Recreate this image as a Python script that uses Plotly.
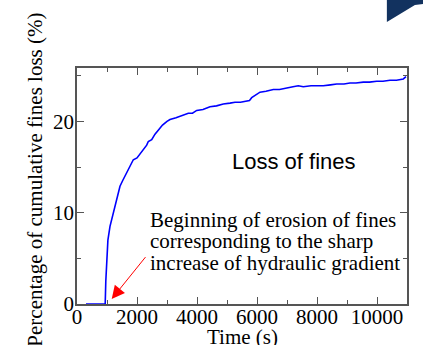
import plotly.graph_objects as go

# Data
time_s = [300, 600, 940, 960, 990, 1030, 1100, 1180, 1267, 1350, 1433, 1520, 1600,
          1750, 1877, 2000, 2100, 2210, 2323, 2377, 2490, 2600, 2710, 2850, 3000,
          3100, 3300, 3543, 3710, 3850, 3990, 4200, 4433, 4650, 4877, 5100, 5267,
          5450, 5657, 5750, 5823, 5950, 6100, 6300, 6543, 6750, 6990, 7200, 7377, 7543,
          7800, 8000, 8210, 8450, 8657, 8900, 9100, 9300, 9543, 9750, 9990, 10200,
          10433, 10650, 10877, 10967]
fines_loss = [0, 0, 0, 2.5, 5.0, 7.0, 8.5, 9.6, 10.7, 11.9, 12.9, 13.5, 14.0,
              15.0, 15.8, 16.0, 16.4, 16.9, 17.4, 17.8, 18.0, 18.6, 19.1, 19.6, 20.0,
              20.2, 20.4, 20.7, 20.9, 20.9, 21.2, 21.3, 21.6, 21.7, 21.9, 22.0, 22.1,
              22.1, 22.2, 22.3, 22.6, 22.9, 23.2, 23.3, 23.5, 23.5, 23.7, 23.8, 23.9, 23.8,
              23.9, 23.9, 23.9, 24.0, 24.1, 24.1, 24.2, 24.2, 24.3, 24.3, 24.4, 24.4,
              24.5, 24.5, 24.65, 24.9]

x_ticks = [0, 2000, 4000, 6000, 8000, 10000]
x_tick_text = ["0", "2000", "4000", "6000", "8000", "10000"]
y_ticks = [0, 10, 20]
y_tick_text = ["0", "10", "20"]

x_title = "Time (s)"
y_title = "Percentage of cumulative fines loss (%)"
label_main = "Loss of fines"
note_lines = ["Beginning of erosion of fines",
              "corresponding to the sharp",
              "increase of hydraulic gradient"]

SERIF = "Liberation Serif"
SANS = "Liberation Sans"
AX = "#555555"

fig = go.Figure()
fig.add_trace(go.Scatter(x=time_s, y=fines_loss, mode="lines",
                         line=dict(color="#0000ff", width=1.6),
                         cliponaxis=False, showlegend=False))

axis_common = dict(showgrid=False, zeroline=False, showline=True, linecolor=AX,
                   linewidth=1.5, mirror="ticks", ticks="inside", ticklen=7,
                   tickcolor=AX, tickwidth=1.2,
                   tickfont=dict(family=SERIF, size=21, color="black"),
                   layer="below traces")

fig.update_xaxes(range=[0, 11000], tickvals=x_ticks, ticktext=x_tick_text,
                 ticklabelstandoff=-7,
                 minor=dict(dtick=1000, ticks="inside", ticklen=4, tickcolor=AX,
                            tickwidth=1.2, showgrid=False),
                 **axis_common)
fig.update_yaxes(range=[0, 25.85], tickvals=y_ticks, ticktext=y_tick_text,
                 ticklabelstandoff=-3,
                 minor=dict(dtick=5, ticks="inside", ticklen=4, tickcolor=AX,
                            tickwidth=1.2, showgrid=False),
                 **axis_common)

annotations = [
    dict(text=x_title, xref="paper", yref="paper", x=0.5, y=0, yshift=-33,
         xanchor="center", yanchor="middle", showarrow=False,
         font=dict(family=SERIF, size=21, color="black")),
    dict(text=y_title, xref="paper", yref="paper", x=0, y=0.527, xshift=-42,
         xanchor="center", yanchor="middle", textangle=-90, showarrow=False,
         font=dict(family=SERIF, size=21, color="black")),
    dict(text=label_main, xref="x", yref="y", x=7233, y=15.6,
         xanchor="center", yanchor="middle", showarrow=False,
         font=dict(family=SANS, size=22, color="black")),
    dict(text="", xref="x", yref="y", x=1157, y=0.55, axref="x", ayref="y",
         ax=2323, ay=5.3, showarrow=True, arrowhead=2, arrowsize=2.6,
         arrowwidth=1, arrowcolor="#ff0000"),
]
line_y = [9.2, 6.85, 4.45]
for txt, yy in zip(note_lines, line_y):
    annotations.append(dict(text=txt, xref="x", yref="y", x=2367, y=yy,
                            xanchor="left", yanchor="middle", showarrow=False,
                            align="left",
                            font=dict(family=SERIF, size=21, color="black")))

fig.update_layout(
    width=423, height=345,
    margin=dict(l=77, r=16, t=68, b=41, pad=0),
    paper_bgcolor="white", plot_bgcolor="white",
    font=dict(family=SERIF),
    annotations=annotations,
    shapes=[dict(type="path", xref="paper", yref="paper",
                 path="M 0.939 1.30 L 1.05 1.30 L 1.05 1.271 L 1.024 1.267 L 0.939 1.195 Z",
                 fillcolor="#12325f", line=dict(width=0), layer="above")],
)

fig.write_html("out.html")
